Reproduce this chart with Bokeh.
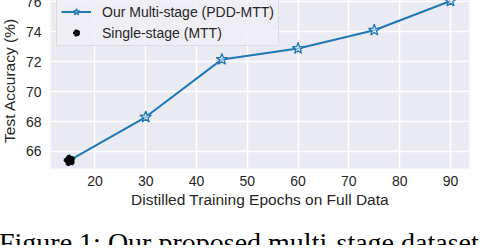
import math
from bokeh.plotting import figure
from bokeh.layouts import column
from bokeh.models import Range1d, FixedTicker, Legend, LegendItem, Div
from bokeh.embed import file_html
from bokeh.resources import INLINE

epochs = [15, 30, 45, 60, 75, 90]
multi_acc = [65.4, 68.3, 72.15, 72.88, 74.1, 76.05]
single_epochs = [15]
single_acc = [65.4]
x_ticks = [20, 30, 40, 50, 60, 70, 80, 90]
y_ticks = [66, 68, 70, 72, 74, 76]
caption_text = "Figure 1: Our proposed multi-stage dataset"

BLUE = "#1f77b4"
FONT = "Liberation Sans"

p = figure(width=494, height=226, output_backend="svg", toolbar_location=None,
           x_range=Range1d(11.25, 93.75), y_range=Range1d(64.86, 76.62),
           min_border_left=58, min_border_right=17, min_border_top=0, min_border_bottom=50)
p.background_fill_color = "#eaeaf2"
p.border_fill_color = "white"
p.outline_line_color = None

for ax in (p.xaxis[0], p.yaxis[0]):
    ax.axis_line_color = None
    ax.major_tick_line_color = None
    ax.minor_tick_line_color = None
    ax.major_tick_out = 0
    ax.major_label_text_font = FONT
    ax.major_label_text_font_size = "14px"
    ax.major_label_text_color = "#262626"
    ax.axis_label_text_font = FONT
    ax.axis_label_text_font_size = "15.5px"
    ax.axis_label_text_font_style = "normal"
    ax.axis_label_text_color = "#262626"

p.xaxis.ticker = FixedTicker(ticks=x_ticks)
p.yaxis.ticker = FixedTicker(ticks=y_ticks)
p.xaxis.axis_label = "Distilled Training Epochs on Full Data"
p.yaxis.axis_label = "Test Accuracy (%)"
p.xaxis.major_label_standoff = 7
p.xaxis.axis_label_standoff = 2
p.yaxis.major_label_standoff = 9
p.yaxis.axis_label_standoff = 5

p.xgrid.ticker = FixedTicker(ticks=x_ticks)
p.ygrid.ticker = FixedTicker(ticks=y_ticks)
p.grid.grid_line_color = "white"
p.grid.grid_line_width = 1.5

ln = p.line(epochs, multi_acc, line_color=BLUE, line_width=2)
st = p.scatter(epochs, multi_acc, marker="star", size=12, line_color=BLUE,
               line_width=1.3, fill_color="white", fill_alpha=0.5)
pg = p.ngon(single_epochs, single_acc, radius=5.5, radius_units="screen", n=5,
            angle=math.pi / 2, fill_color="black", line_color="black")

legend = Legend(items=[LegendItem(label="Our Multi-stage (PDD-MTT)", renderers=[ln, st]),
                       LegendItem(label="Single-stage (MTT)", renderers=[pg])],
                location="top_left")
legend.margin = 6
legend.padding = 4
legend.spacing = 4
legend.glyph_width = 30
legend.glyph_height = 17
legend.label_height = 17
legend.label_standoff = 11
legend.label_text_font = FONT
legend.label_text_font_size = "14px"
legend.label_text_color = "#262626"
legend.background_fill_color = "#eeeef4"
legend.background_fill_alpha = 0.85
legend.border_line_color = "#cccccc"
legend.border_line_width = 1
p.add_layout(legend)

# caption strip (cropped at the bottom, as in the reference)
cap = Div(text=('<div style="font-family: \'Liberation Serif\', serif; font-size: 28px; '
                'line-height: 28px; white-space: nowrap; color: black; '
                'margin: 0; padding: 6px 0 0 2px;">' + caption_text + '</div>'),
          width=494, height=22, styles={"overflow": "hidden"})

layout = column(p, cap, spacing=0)
layout.styles = {"margin": "-8px"}

open("out.html", "w").write(file_html(layout, INLINE))
